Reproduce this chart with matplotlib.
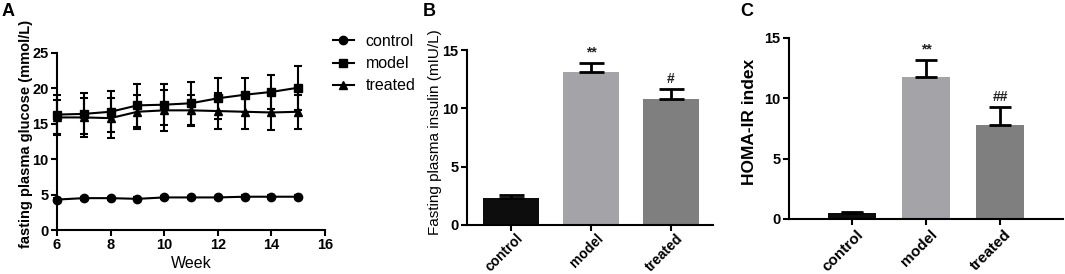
import matplotlib
matplotlib.use("Agg")
import matplotlib.pyplot as plt
from matplotlib.lines import Line2D
from matplotlib.transforms import ScaledTranslation
import numpy as np

plt.rcParams['font.family'] = ['Liberation Sans', 'DejaVu Sans']

# ---- Panel A data ----
weeks = [6, 7, 8, 9, 10, 11, 12, 13, 14, 15]
control_glu = [4.3, 4.5, 4.5, 4.4, 4.6, 4.6, 4.6, 4.7, 4.7, 4.7]
control_glu_err = [0.2, 0.2, 0.2, 0.2, 0.2, 0.2, 0.2, 0.2, 0.2, 0.2]
model_glu = [16.3, 16.4, 16.7, 17.6, 17.7, 17.9, 18.6, 19.1, 19.5, 20.1]
model_glu_err = [2.8, 2.9, 2.9, 3.0, 2.9, 3.0, 2.9, 2.4, 2.4, 3.1]
treated_glu = [15.9, 15.9, 15.8, 16.7, 16.9, 16.9, 16.8, 16.7, 16.6, 16.7]
treated_glu_err = [2.5, 2.7, 2.8, 2.4, 2.9, 2.2, 2.5, 2.5, 2.5, 2.4]

# ---- Panel B / C data ----
groups = ['control', 'model', 'treated']
insulin = [2.35, 13.1, 10.8]
insulin_err = [0.25, 0.8, 0.85]
insulin_marks = ['', '**', '#']
homa = [0.47, 11.75, 7.75]
homa_err = [0.1, 1.4, 1.5]
homa_marks = ['', '**', '##']
bar_colors = ['#0d0d0d', '#a3a3a8', '#7f7f7f']

W, H = 1065, 274
fig = plt.figure(figsize=(W / 100, H / 100), dpi=100)

def add_ax(left, top, right, bottom):
    return fig.add_axes([left / W, 1 - bottom / H, (right - left) / W, (bottom - top) / H])

def style(ax, xsize=10.5, shift=0, dy=0):
    for s in ['top', 'right']:
        ax.spines[s].set_visible(False)
    for s in ['left', 'bottom']:
        ax.spines[s].set_linewidth(1.5)
    ax.tick_params(width=1.5, length=4, labelsize=10.5, pad=2)
    ax.tick_params(axis='x', labelsize=xsize)
    for lab in ax.get_xticklabels() + ax.get_yticklabels():
        lab.set_fontweight('bold')
    if shift or dy:
        off = ScaledTranslation(shift / 100, dy / 100, fig.dpi_scale_trans)
        for lab in ax.get_xticklabels():
            lab.set_transform(lab.get_transform() + off)

# ---- Panel A ----
axA = add_ax(57, 53, 325, 230)
lw = 1.5
markers = ['o', 's', '^']
for vals, errs, mk, lab in [(control_glu, control_glu_err, 'o', 'control'),
                            (model_glu, model_glu_err, 's', 'model'),
                            (treated_glu, treated_glu_err, '^', 'treated')]:
    axA.errorbar(weeks, vals, yerr=errs, color='black', marker=mk, ms=6,
                 lw=lw, capsize=3, capthick=lw, elinewidth=lw, label=lab, clip_on=False)
axA.set_xlim(6, 16)
axA.set_ylim(0, 25)
axA.set_xticks([6, 8, 10, 12, 14, 16])
axA.set_yticks([0, 5, 10, 15, 20, 25])
axA.set_xlabel('Week', fontsize=11.5, labelpad=3)
axA.set_ylabel('fasting plasma glucose (mmol/L)', fontsize=10.5, fontweight='bold')
axA.yaxis.set_label_coords(-0.09, 0.542)
style(axA)
handles = [Line2D([], [], color='black', marker=m, ms=6, lw=1.5) for m in markers]
fig.legend(handles, ['control', 'model', 'treated'], loc='upper left',
           bbox_to_anchor=(333 / W, 1 - 34 / H),
           frameon=False, fontsize=11.5, handlelength=1.3, handletextpad=0.75,
           labelspacing=0.45, borderaxespad=0, borderpad=0)

# ---- Panel B ----
axB = add_ax(467, 50, 713, 225)
x = np.arange(len(groups))
axB.bar(x, insulin, width=0.7, color=bar_colors)
axB.errorbar(x, insulin, yerr=[np.zeros(len(groups)), insulin_err], fmt='none',
             ecolor='black', elinewidth=2, capsize=9, capthick=2)
for xi, v, e, m in zip(x, insulin, insulin_err, insulin_marks):
    if m:
        axB.text(xi, v + e + 0.3, m, ha='center', va='bottom', fontsize=10, fontweight='bold',
                 color='#222222')
axB.set_xlim(-0.55, 2.525)
axB.set_ylim(0, 15)
axB.set_yticks([0, 5, 10, 15])
axB.set_xticks(x)
axB.set_xticklabels(groups, rotation=45, ha='right', rotation_mode='anchor')
axB.set_ylabel('Fasting plasma insulin (mIU/L)', fontsize=11)
axB.yaxis.set_label_coords(-0.1, 0.53)
style(axB, xsize=10, shift=5, dy=2)

# ---- Panel C ----
axC = add_ax(789, 38, 1063, 219)
axC.bar(x, homa, width=0.66, color=bar_colors)
axC.errorbar(x, homa, yerr=[np.zeros(len(groups)), homa_err], fmt='none',
             ecolor='black', elinewidth=2, capsize=8, capthick=2)
for xi, v, e, m in zip(x, homa, homa_err, homa_marks):
    if m:
        axC.text(xi, v + e + 0.3, m, ha='center', va='bottom', fontsize=10, fontweight='bold',
                 color='#222222')
axC.set_xlim(-0.85, 2.85)
axC.set_ylim(0, 15)
axC.set_yticks([0, 5, 10, 15])
axC.set_xticks(x)
axC.set_xticklabels(groups, rotation=45, ha='right', rotation_mode='anchor')
axC.set_ylabel('HOMA-IR index', fontsize=12.5, fontweight='bold')
axC.yaxis.set_label_coords(-0.115, 0.536)
style(axC, xsize=11, shift=4)

# panel letters
fig.text(2 / W, 1 - 3 / H, 'A', fontsize=13, fontweight='bold', va='top', ha='left')
fig.text(423 / W, 1 - 3 / H, 'B', fontsize=13, fontweight='bold', va='top', ha='left')
fig.text(740 / W, 1 - 3 / H, 'C', fontsize=13, fontweight='bold', va='top', ha='left')

fig.savefig('out.png', dpi=100)
